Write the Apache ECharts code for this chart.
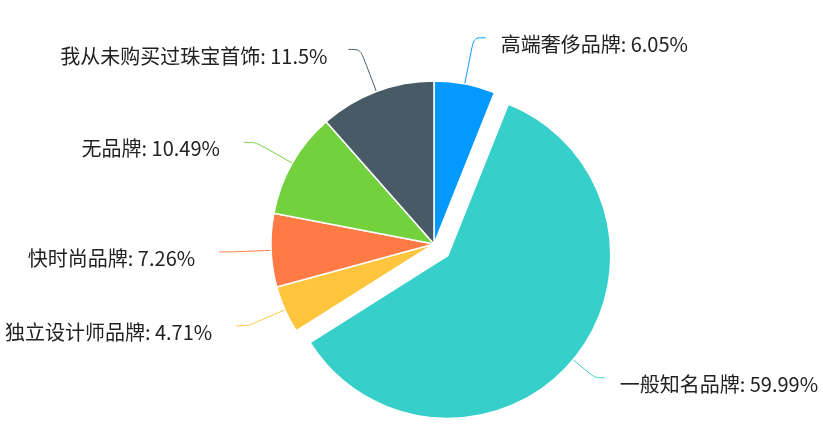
<!DOCTYPE html>
<html>
<head>
  <meta charset="utf-8" />
  <script src="https://cdn.jsdelivr.net/npm/echarts@6/dist/echarts.min.js"></script>
  <style>
    html, body { margin: 0; padding: 0; background: #fff; }
    #main { width: 823px; height: 430px; }
  </style>
</head>
<body>
  <div id="main"></div>
  <script>
    // 品牌类别
    var names = ['高端奢侈品牌', '一般知名品牌', '独立设计师品牌', '快时尚品牌', '无品牌', '我从未购买过珠宝首饰'];
    // 占比(%)
    var values = [6.05, 59.99, 4.71, 7.26, 10.49, 11.5];
    var colors = ['#0399fe', '#36cfc9', '#ffc53d', '#ff7a45', '#73d13d', '#475a66'];
    // 引导线第一段长度
    var lineLen = [47, 28, 40, 40, 42, 45];

    var data = [];
    for (var i = 0; i < names.length; i++) {
      data.push({
        name: names[i],
        value: values[i],
        selected: i === 1,
        itemStyle: { color: colors[i] },
        // 右侧标签离线近一点，左侧远一点
        label: { distanceToLabelLine: i < 2 ? 15 : (i === 5 ? 21 : 24) },
        labelLine: {
          length: lineLen[i],
          length2: i === 1 ? 10 : 12,
          lineStyle: { color: colors[i] }
        }
      });
    }

    var myChart = echarts.init(document.getElementById('main'));
    var option = {
      animation: false,
      series: [{
        type: 'pie',
        center: [434, 244],
        radius: 163,
        startAngle: 90,
        clockwise: true,
        selectedMode: 'single',
        selectedOffset: 18,
        itemStyle: { borderColor: '#fff', borderWidth: 1.5 },
        label: {
          formatter: '{t|{b}: {d}%}',
          overflow: 'none',
          rich: {
            t: {
              color: '#222',
              fontSize: 20,
              fontFamily: 'Noto Sans CJK SC',
              padding: [13, 0, 0, 0]
            }
          }
        },
        labelLine: { smooth: true },
        data: data
      }]
    };
    myChart.setOption(option);
  </script>
</body>
</html>
